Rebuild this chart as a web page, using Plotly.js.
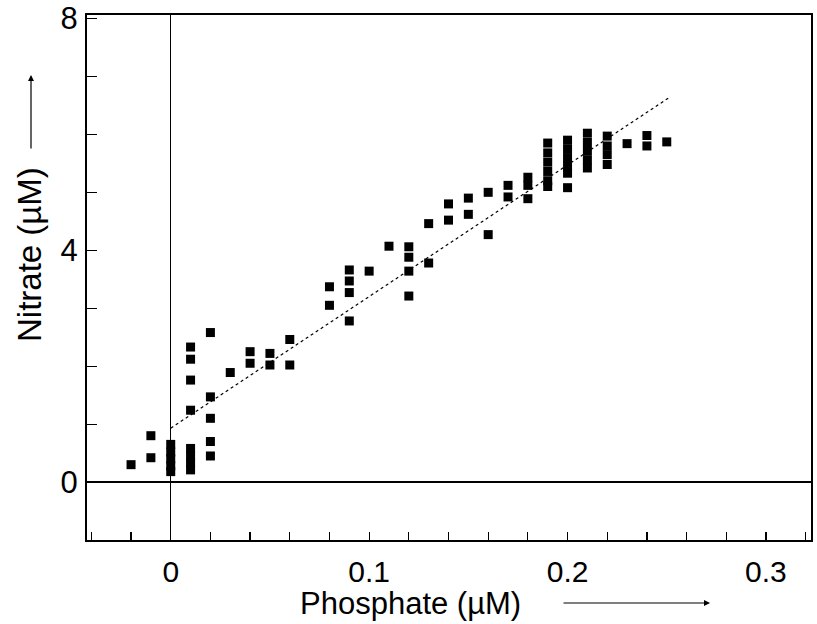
<!DOCTYPE html>
<html>
<head>
<meta charset="utf-8">
<script src="https://cdn.plot.ly/plotly-3.0.1.min.js"></script>
<style>html,body{margin:0;padding:0;background:#fff;}#chart{width:817px;height:624px;}</style>
</head>
<body>
<div id="chart"></div>
<script>
// Phosphate (µM) values of each sample
var phosphate = [
  -0.02,
  -0.01, -0.01,
  0, 0, 0, 0, 0,
  0.01, 0.01, 0.01, 0.01, 0.01, 0.01, 0.01, 0.01,
  0.02, 0.02, 0.02, 0.02, 0.02,
  0.03,
  0.04, 0.04,
  0.05, 0.05,
  0.06, 0.06,
  0.08, 0.08,
  0.09, 0.09, 0.09, 0.09,
  0.10,
  0.11,
  0.12, 0.12, 0.12, 0.12,
  0.13, 0.13,
  0.14, 0.14,
  0.15, 0.15,
  0.16, 0.16,
  0.17, 0.17,
  0.18, 0.18, 0.18,
  0.19, 0.19, 0.19, 0.19, 0.19, 0.19,
  0.20, 0.20, 0.20, 0.20, 0.20, 0.20,
  0.21, 0.21, 0.21, 0.21, 0.21,
  0.22, 0.22, 0.22, 0.22,
  0.23,
  0.24, 0.24,
  0.25
];
// Nitrate (µM) values of each sample
var nitrate = [
  0.30,
  0.80, 0.42,
  0.65, 0.52, 0.40, 0.28, 0.18,
  2.33, 2.12, 1.76, 1.24, 0.58, 0.45, 0.33, 0.21,
  2.58, 1.47, 1.10, 0.70, 0.45,
  1.89,
  2.25, 2.05,
  2.22, 2.02,
  2.46, 2.02,
  3.37, 3.05,
  3.66, 3.47, 3.27, 2.78,
  3.64,
  4.07,
  4.06, 3.88, 3.64, 3.21,
  4.46, 3.78,
  4.80, 4.52,
  4.90, 4.62,
  5.00, 4.27,
  5.12, 4.92,
  5.26, 5.12, 4.89,
  5.85, 5.68, 5.52, 5.36, 5.20, 5.10,
  5.90, 5.75, 5.60, 5.45, 5.33, 5.08,
  6.02, 5.86, 5.71, 5.56, 5.42,
  5.97, 5.80, 5.65, 5.48,
  5.84,
  5.98, 5.80,
  5.87
];
// Regression line end points
var fitX = [0, 0.251];
var fitY = [0.93, 6.63];
// Axis ticks
var xTickVals = [0, 0.1, 0.2, 0.3];
var xTickText = ['0', '0.1', '0.2', '0.3'];
var yTickVals = [0, 4, 8];
var yTickText = ['0', '4', '8'];
var xTitle = 'Phosphate (µM)';
var yTitle = 'Nitrate (µM)';

var FONT = 'Liberation Sans, Arial, Helvetica, sans-serif';

var traces = [
  {
    x: fitX, y: fitY, type: 'scatter', mode: 'lines',
    line: {color: '#000', width: 1.2, dash: 'dot'},
    hoverinfo: 'skip', showlegend: false
  },
  {
    x: phosphate, y: nitrate, type: 'scatter', mode: 'markers',
    marker: {symbol: 'square', size: 9, color: '#000'},
    showlegend: false
  }
];

var layout = {
  width: 817, height: 624,
  margin: {l: 87, r: 6, t: 15, b: 84},
  paper_bgcolor: '#fff', plot_bgcolor: '#fff',
  font: {family: FONT, color: '#000', size: 31},
  showlegend: false,
  xaxis: {
    range: [-0.0422, 0.3227],
    tickvals: xTickVals, ticktext: xTickText,
    ticks: 'inside', ticklen: 8, tickwidth: 1.2, tickcolor: '#000',
    minor: {dtick: 0.02, tick0: 0, ticks: 'inside', ticklen: 8, tickwidth: 1.2, tickcolor: '#000', showgrid: false},
    showgrid: false,
    showline: true, linecolor: '#000', linewidth: 2, mirror: true,
    zeroline: true, zerolinecolor: '#000', zerolinewidth: 1,
    tickfont: {size: 30, family: FONT, color: '#000'},
    ticklabelstandoff: 4
  },
  yaxis: {
    range: [-1.0, 8.06],
    tickvals: yTickVals, ticktext: yTickText,
    ticks: 'inside', ticklen: 10, tickwidth: 1.2, tickcolor: '#000',
    minor: {dtick: 1, tick0: 0, ticks: 'inside', ticklen: 10, tickwidth: 1.2, tickcolor: '#000', showgrid: false},
    showgrid: false,
    showline: true, linecolor: '#000', linewidth: 2, mirror: true,
    zeroline: true, zerolinecolor: '#000', zerolinewidth: 2.5,
    tickfont: {size: 31, family: FONT, color: '#000'},
    ticklabelstandoff: 1
  },
  annotations: [
    {
      xref: 'paper', yref: 'paper', x: (410 - 87) / 724, y: (540 - 623) / 525,
      xanchor: 'center', yanchor: 'bottom', showarrow: false,
      text: xTitle, font: {size: 31, family: FONT, color: '#000'}
    },
    {
      xref: 'paper', yref: 'paper', x: (29 - 87) / 724, y: (540 - 255) / 525,
      xanchor: 'center', yanchor: 'middle', showarrow: false, textangle: -90,
      text: yTitle, font: {size: 33, family: FONT, color: '#000'}
    },
    {
      xref: 'paper', yref: 'paper', x: (710 - 87) / 724, y: (540 - 603) / 525,
      text: '', showarrow: true, ax: -148, ay: 0,
      arrowhead: 2, arrowsize: 1, arrowwidth: 1.2, arrowcolor: '#000'
    },
    {
      xref: 'paper', yref: 'paper', x: (31 - 87) / 724, y: (540 - 75) / 525,
      text: '', showarrow: true, ax: 0, ay: 75,
      arrowhead: 2, arrowsize: 1, arrowwidth: 1.2, arrowcolor: '#000'
    }
  ]
};

Plotly.newPlot('chart', traces, layout, {displayModeBar: false, staticPlot: true});
</script>
</body>
</html>
